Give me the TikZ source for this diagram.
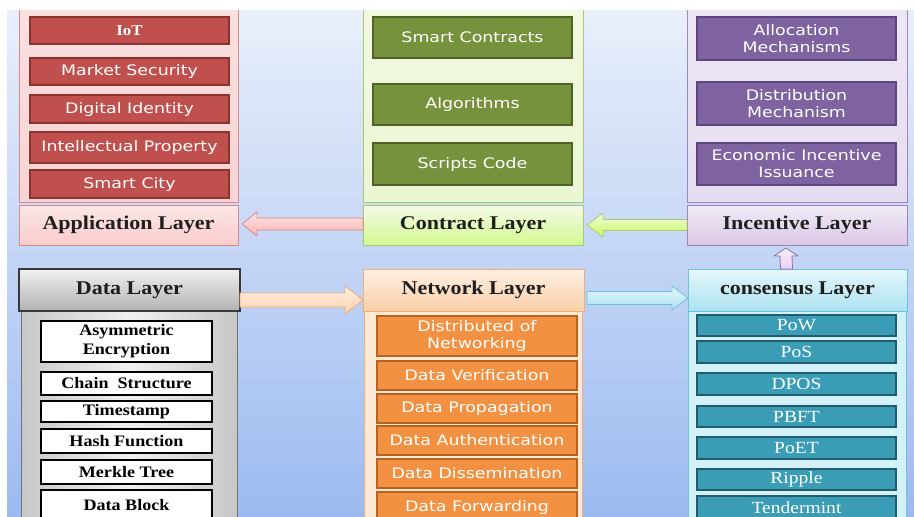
\documentclass[tikz,border=0pt]{standalone}
\usepackage{fontspec}
\usetikzlibrary{calc}
\newfontfamily\hdfont[FakeStretch=1.13]{Liberation Serif}
\newfontfamily\csfont[FakeStretch=1.15]{Liberation Serif}
\newfontfamily\bxfont[FakeStretch=1.2]{DejaVu Sans}

\definecolor{bgtop}{HTML}{E9EFFB}
\definecolor{bgbot}{HTML}{9CBAF0}
% application (red)
\definecolor{rPan}{HTML}{F8D3D3}
\definecolor{rPanL}{HTML}{D98A8A}
\definecolor{rBox}{HTML}{C0504D}
\definecolor{rBoxL}{HTML}{8B3331}
% contract (green)
\definecolor{gPan}{HTML}{EBF6D3}
\definecolor{gPanL}{HTML}{A9C873}
\definecolor{gBox}{HTML}{76923C}
\definecolor{gBoxL}{HTML}{4F6228}
% incentive (purple)
\definecolor{pPan}{HTML}{E6DCF0}
\definecolor{pPanL}{HTML}{9D88BD}
\definecolor{pBox}{HTML}{7F63A1}
\definecolor{pBoxL}{HTML}{5C4580}
% network (orange)
\definecolor{oPan}{HTML}{FDE8D6}
\definecolor{oPanL}{HTML}{F1AE78}
\definecolor{oHead}{HTML}{FBCFA8}
\definecolor{oBox}{HTML}{F29142}
\definecolor{oBoxL}{HTML}{B8621E}
% consensus (cyan)
\definecolor{cPan}{HTML}{D4F0F8}
\definecolor{cPanL}{HTML}{6CC4DC}
\definecolor{cHead}{HTML}{ACE2F1}
\definecolor{cBox}{HTML}{3B9DB5}
\definecolor{cBoxL}{HTML}{1F5D6E}

% rectangle node given by its corners (x1,y1) (x2,y2), y growing downwards
\newcommand\bx[7]{\node[#6,anchor=north west,minimum width={(#4-#2)*1pt},minimum height={(#5-#3)*1pt}] (#1) at (#2,#3) {#7};}
% horizontal block arrow: style, tail, tip, shaft half, head half, head length (signed)
\newcommand\hblock[6]{\draw[#1] ($(#2)+(0,-#4)$) -- ($(#3)+(#6,-#4)$) -- ($(#3)+(#6,-#5)$) -- (#3) -- ($(#3)+(#6,#5)$) -- ($(#3)+(#6,#4)$) -- ($(#2)+(0,#4)$) -- cycle;}
% vertical block arrow pointing up: style, tail, tip, shaft half, head half, head length
\newcommand\vblock[6]{\draw[#1] ($(#2)+(-#4,0)$) -- ($(#3)+(-#4,#6)$) -- ($(#3)+(-#5,#6)$) -- (#3) -- ($(#3)+(#5,#6)$) -- ($(#3)+(#4,#6)$) -- ($(#2)+(#4,0)$) -- cycle;}

\tikzset{
  base/.style={inner sep=0pt, outer sep=0pt, align=center},
  hdr/.style={base, line width=0.9pt, text=black!88,
    font=\hdfont\bfseries\fontsize{19.5}{21}\selectfont},
  pan/.style={base, line width=0.9pt},
  sbox/.style={base, line width=1.2pt, text=white,
    font=\bxfont\fontsize{14.5}{17}\selectfont},
  serbox/.style={base, line width=1.2pt,
    font=\hdfont\bfseries\fontsize{16}{19}\selectfont},
  redbox/.style={sbox, fill=rBox, draw=rBoxL},
  grnbox/.style={sbox, fill=gBox, draw=gBoxL},
  purbox/.style={sbox, fill=pBox, draw=pBoxL},
  orgbox/.style={sbox, fill=oBox, draw=oBoxL},
  cynbox/.style={base, line width=1.2pt, fill=cBox, draw=cBoxL, text=white,
    font=\csfont\fontsize{17}{19}\selectfont},
  whtbox/.style={serbox, fill=white, draw=black, line width=1.6pt, text=black},
  blk/.style={line width=0.8pt, line join=round},
}

\begin{document}
\begin{tikzpicture}[x=1pt,y=-1pt]
\useasboundingbox (0,0) rectangle (914,517);
\fill[white] (0,0) rectangle (914,517);
\begin{scope}
\clip (7,10) rectangle (914,517);
\shade[top color=bgtop, bottom color=bgbot] (7,10) rectangle (914,517);

% ---------------- application layer ----------------
\bx{panA}{19}{0}{238}{202}{pan, top color=rPan!70!white, bottom color=rPan, draw=rPanL}{}
\bx{hApp}{19}{205}{238}{245}{hdr, top color=rPan!55!white, bottom color=rPan!90!red!80, draw=rPanL}{Application Layer}
\bx{a1}{30}{17}{229}{44}{redbox, font=\hdfont\bfseries\fontsize{15}{17}\selectfont}{IoT}
\bx{a2}{30}{58}{229}{85}{redbox}{Market Security}
\bx{a3}{30}{95}{229}{123}{redbox}{Digital Identity}
\bx{a4}{30}{132}{229}{163}{redbox}{Intellectual Property}
\bx{a5}{30}{170}{229}{198}{redbox}{Smart City}

% ---------------- contract layer ----------------
\bx{panC}{363}{0}{583}{202}{pan, top color=gPan!70!white, bottom color=gPan, draw=gPanL}{}
\bx{hCon}{363}{205}{583}{245}{hdr, top color=gPan!55!white, bottom color=gPan!85!green!80!yellow, draw=gPanL}{Contract Layer}
\bx{c1}{373}{17}{572}{58}{grnbox}{Smart Contracts}
\bx{c2}{373}{84}{572}{125}{grnbox}{Algorithms}
\bx{c3}{373}{143}{572}{185}{grnbox}{Scripts Code}

% ---------------- incentive layer ----------------
\bx{panI}{687}{0}{907}{202}{pan, top color=pPan!70!white, bottom color=pPan, draw=pPanL}{}
\bx{hInc}{687}{205}{907}{245}{hdr, top color=pPan!55!white, bottom color=pPan!90!violet, draw=pPanL}{Incentive Layer}
\bx{i1}{697}{17}{896}{60}{purbox}{Allocation\\Mechanisms}
\bx{i2}{697}{82}{896}{125}{purbox}{Distribution\\Mechanism}
\bx{i3}{697}{143}{896}{185}{purbox}{Economic Incentive\\Issuance}

% ---------------- data layer ----------------
\bx{panD}{21}{311}{237}{530}{pan, left color=black!22, right color=black!22, middle color=black!6, draw=black!55}{}
\bx{hData}{19}{269}{240}{311}{hdr, top color=black!6, bottom color=black!30, draw=black!78, line width=1.2pt}{Data Layer}
\bx{d1}{41}{321}{212}{362}{whtbox}{Asymmetric\\Encryption}
\bx{d2}{41}{372}{212}{395}{whtbox}{Chain\ \ Structure}
\bx{d3}{41}{401}{212}{422}{whtbox}{Timestamp}
\bx{d4}{41}{429}{212}{453}{whtbox}{Hash Function}
\bx{d5}{41}{460}{212}{484}{whtbox}{Merkle Tree}
\bx{d6}{41}{490}{212}{520}{whtbox}{Data Block}

% ---------------- network layer ----------------
\bx{panN}{364}{311}{582}{530}{pan, fill=oPan, draw=oPanL}{}
\bx{hNet}{363}{269}{584}{311}{hdr, top color=oPan!70!white, bottom color=oHead, draw=oPanL}{Network Layer}
\bx{n1}{377}{316}{577}{356}{orgbox}{Distributed of\\Networking}
\bx{n2}{377}{361}{577}{390}{orgbox}{Data Verification}
\bx{n3}{377}{394}{577}{423}{orgbox}{Data Propagation}
\bx{n4}{377}{426}{577}{455}{orgbox}{Data Authentication}
\bx{n5}{377}{459}{577}{488}{orgbox}{Data Dissemination}
\bx{n6}{377}{492}{577}{522}{orgbox}{Data Forwarding}

% ---------------- consensus layer ----------------
\bx{panS}{688}{311}{906}{530}{pan, fill=cPan, draw=cPanL}{}
\bx{hCons}{688}{269}{907}{311}{hdr, top color=cPan!60!white, bottom color=cHead, draw=cPanL}{consensus Layer}
\bx{s1}{697}{315}{896}{336}{cynbox}{PoW}
\bx{s2}{697}{341}{896}{363}{cynbox}{PoS}
\bx{s3}{697}{373}{896}{395}{cynbox}{DPOS}
\bx{s4}{697}{406}{896}{427}{cynbox}{PBFT}
\bx{s5}{697}{437}{896}{459}{cynbox}{PoET}
\bx{s6}{697}{469}{896}{490}{cynbox}{Ripple}
\bx{s7}{697}{496}{896}{519}{cynbox}{Tendermint}

% ---------------- connectors ----------------
\coordinate (t1) at ($(hCon.west)+(0,-1)$);
\coordinate (h1) at ($(hApp.east)+(4,-1)$);
\hblock{blk, top color=rPan!60!white, bottom color=rPan!70!red!70, draw=rPanL}{t1}{h1}{6}{12}{15}

\coordinate (t2) at ($(hInc.west)+(0,0)$);
\coordinate (h2) at ($(hCon.east)+(4,0)$);
\hblock{blk, top color=gPan!60!white, bottom color=gPan!70!green!60!yellow, draw=gPanL}{t2}{h2}{5.5}{12}{16}

\coordinate (t3) at ($(hData.east)+(0,10)$);
\coordinate (h3) at ($(hNet.west)+(0,10)$);
\hblock{blk, top color=oPan!60!white, bottom color=oHead, draw=oPanL}{t3}{h3}{7}{14}{-18}

\coordinate (t4) at ($(hNet.east)+(3,8)$);
\coordinate (h4) at ($(hCons.west)+(0,8)$);
\hblock{blk, top color=cPan!60!white, bottom color=cHead, draw=cPanL}{t4}{h4}{6.5}{12}{-16}

\coordinate (t5) at ($(hCons.north)+(-11,0)$);
\coordinate (h5) at ($(hInc.south)+(-11,3)$);
\vblock{blk, top color=pPan!50!white, bottom color=pPan!80!magenta!60, draw=pPanL!85!black}{t5}{h5}{6}{12}{8}
\end{scope}
\end{tikzpicture}
\end{document}
